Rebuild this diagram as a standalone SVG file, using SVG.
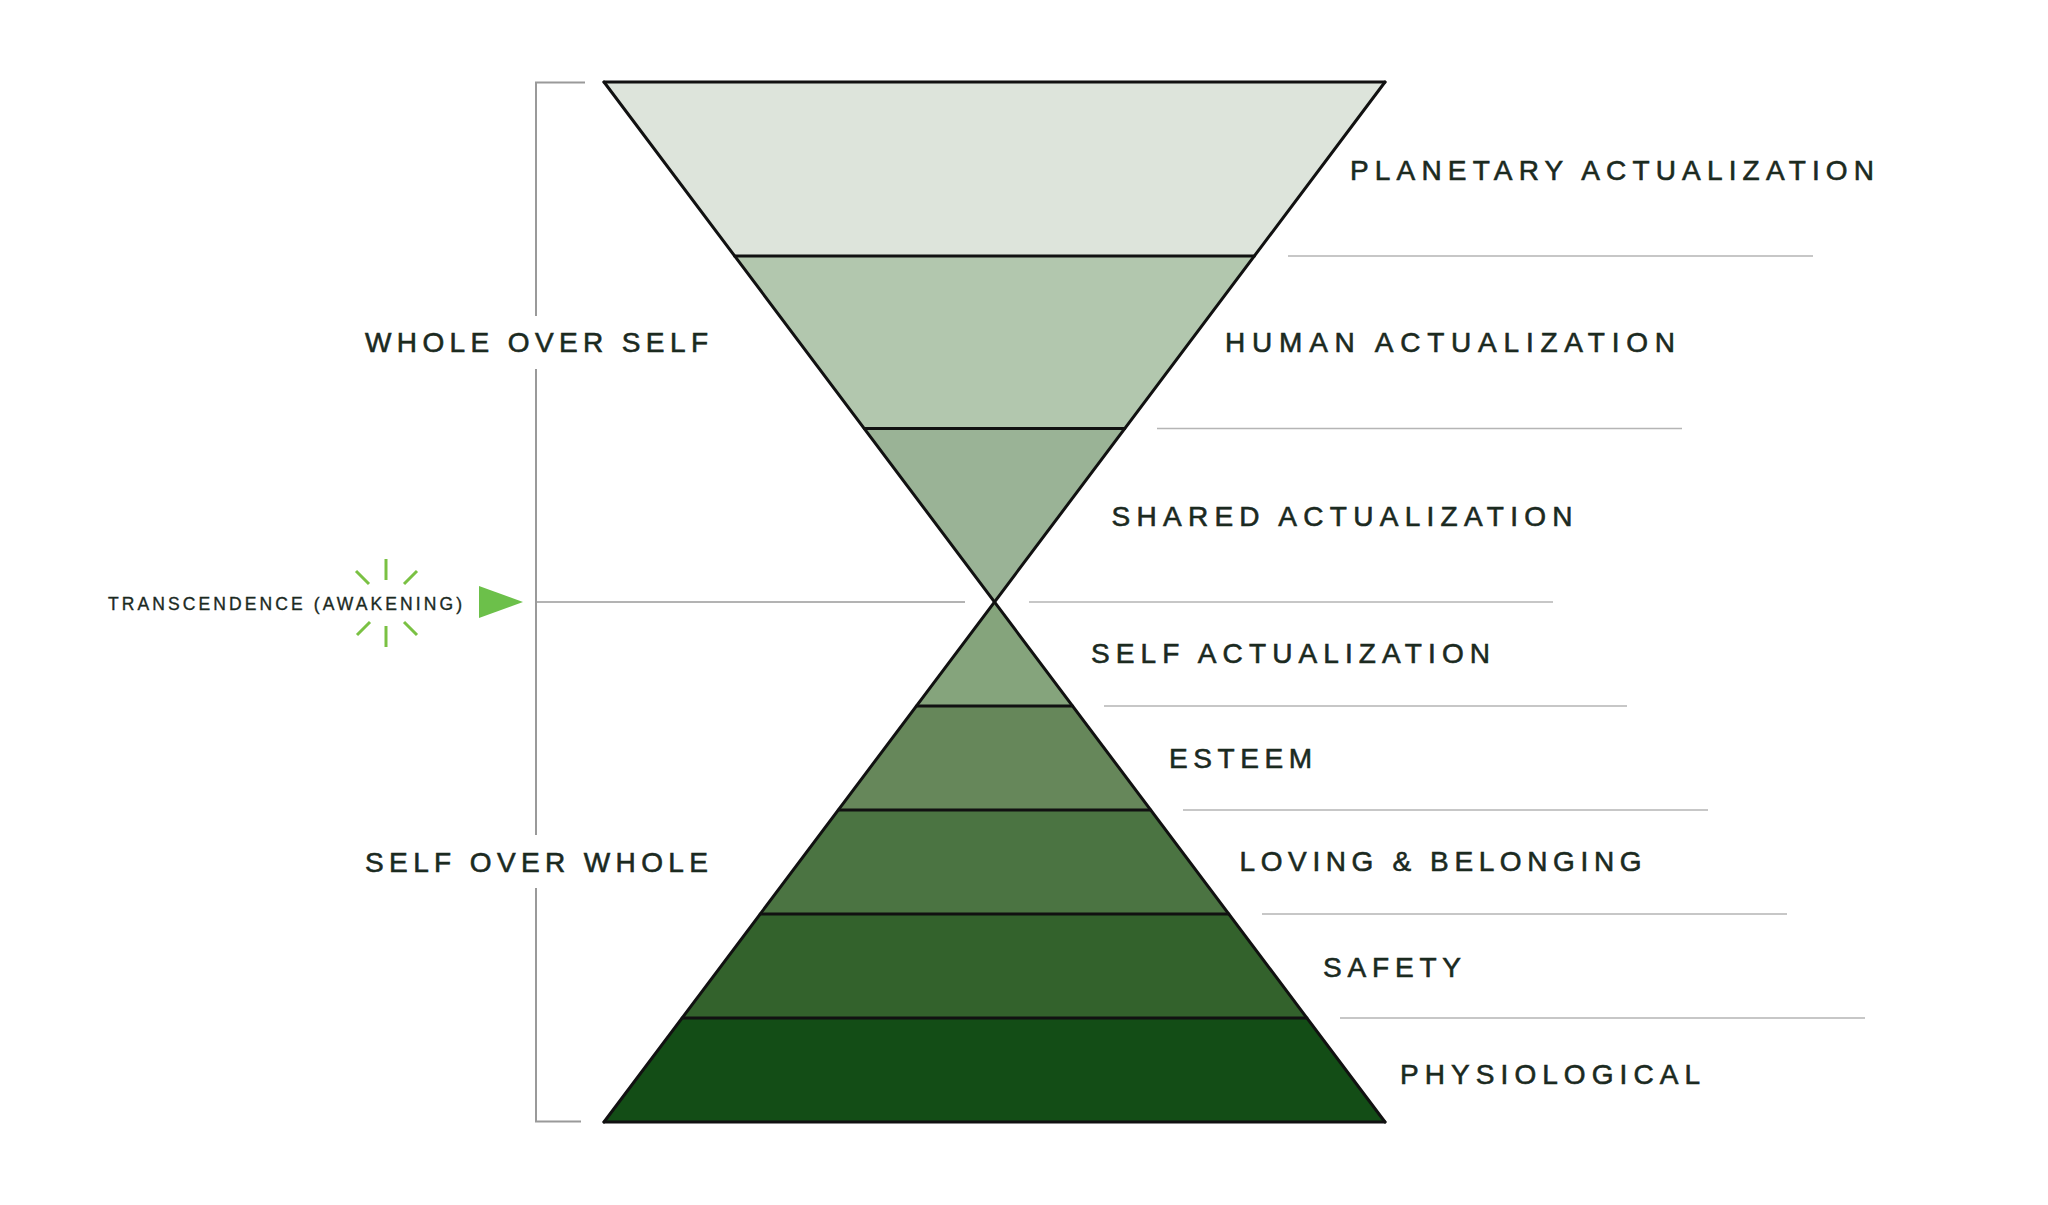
<svg xmlns="http://www.w3.org/2000/svg" width="2048" height="1205" viewBox="0 0 2048 1205">
<style>
.lbl{font-family:"Liberation Sans",Arial,sans-serif;font-size:28px;fill:#1b2a1f;stroke:#1b2a1f;stroke-width:0.6}
.small{font-family:"Liberation Sans",Arial,sans-serif;font-size:17.5px;fill:#1b2a1f;stroke:#1b2a1f;stroke-width:0.35}
.edge{stroke:#111;stroke-width:3;fill:none;stroke-linecap:round}
.rule{stroke:#b5b5b5;stroke-width:1.6}
.brk{stroke:#9a9a9a;stroke-width:2;fill:none}
.ray{stroke:#7ac143;stroke-width:3;stroke-linecap:butt}
</style>
<rect width="2048" height="1205" fill="#fff"/>
<g id="bracket">
<path class="brk" d="M585,82.5 H536 V316 M536,369 V835 M536,888 V1121.5 H581"/>
</g>
<g id="connectors">
<line class="brk" x1="536" y1="602" x2="965" y2="602" style="stroke-width:1.6"/>
<line class="rule" x1="1288" y1="256" x2="1813" y2="256"/>
<line class="rule" x1="1157" y1="428.5" x2="1682" y2="428.5"/>
<line class="rule" x1="1029" y1="602" x2="1553" y2="602"/>
<line class="rule" x1="1104" y1="706" x2="1627" y2="706"/>
<line class="rule" x1="1183" y1="810" x2="1708" y2="810"/>
<line class="rule" x1="1262" y1="914" x2="1787" y2="914"/>
<line class="rule" x1="1340" y1="1018" x2="1865" y2="1018"/>
</g>
<g id="planetary"><polygon points="604,82 1385,82 1254.3,256 734.7,256" fill="#dde4db"/><text class="lbl" x="1350" y="180" textLength="524" lengthAdjust="spacing">PLANETARY ACTUALIZATION</text></g>
<g id="human"><polygon points="734.7,256 1254.3,256 1124.6,428.5 864.4,428.5" fill="#b2c7ae"/><text class="lbl" x="1225" y="352" textLength="450" lengthAdjust="spacing">HUMAN ACTUALIZATION</text></g>
<g id="shared"><polygon points="864.4,428.5 1124.6,428.5 994.5,602" fill="#9ab396"/><text class="lbl" x="1111.5" y="526" textLength="461" lengthAdjust="spacing">SHARED ACTUALIZATION</text></g>
<g id="self-actualization"><polygon points="994.5,602 1072.6,706 916.4,706" fill="#85a47c"/><text class="lbl" x="1091" y="663" textLength="399" lengthAdjust="spacing">SELF ACTUALIZATION</text></g>
<g id="esteem"><polygon points="916.4,706 1072.6,706 1150.7,810 838.3,810" fill="#66875a"/><text class="lbl" x="1169" y="768" textLength="143" lengthAdjust="spacing">ESTEEM</text></g>
<g id="loving"><polygon points="838.3,810 1150.7,810 1228.8,914 760.2,914" fill="#4b7442"/><text class="lbl" x="1239.5" y="871" textLength="402" lengthAdjust="spacing">LOVING &amp; BELONGING</text></g>
<g id="safety"><polygon points="760.2,914 1228.8,914 1306.9,1018 682.1,1018" fill="#33622c"/><text class="lbl" x="1323" y="977" textLength="138" lengthAdjust="spacing">SAFETY</text></g>
<g id="physiological"><polygon points="682.1,1018 1306.9,1018 1385,1122 604,1122" fill="#134d16"/><text class="lbl" x="1400" y="1084" textLength="300" lengthAdjust="spacing">PHYSIOLOGICAL</text></g>
<g id="outline">
<line class="edge" x1="604" y1="82" x2="1385" y2="1122"/>
<line class="edge" x1="1385" y1="82" x2="604" y2="1122"/>
<line class="edge" x1="604" y1="82" x2="1385" y2="82"/>
<line class="edge" x1="734.7" y1="256" x2="1254.3" y2="256"/>
<line class="edge" x1="864.4" y1="428.5" x2="1124.6" y2="428.5"/>
<line class="edge" x1="916.4" y1="706" x2="1072.6" y2="706"/>
<line class="edge" x1="838.3" y1="810" x2="1150.7" y2="810"/>
<line class="edge" x1="760.2" y1="914" x2="1228.8" y2="914"/>
<line class="edge" x1="682.1" y1="1018" x2="1306.9" y2="1018"/>
<line class="edge" x1="604" y1="1122" x2="1385" y2="1122"/>
</g>
<g id="whole-over-self"><text class="lbl" x="365" y="352" textLength="343" lengthAdjust="spacing">WHOLE OVER SELF</text></g>
<g id="self-over-whole"><text class="lbl" x="365" y="872" textLength="343" lengthAdjust="spacing">SELF OVER WHOLE</text></g>
<g id="transcendence">
<text class="small" x="108" y="610" textLength="354" lengthAdjust="spacing">TRANSCENDENCE (AWAKENING)</text>
<line class="ray" x1="386" y1="559" x2="386" y2="580"/>
<line class="ray" x1="386" y1="626" x2="386" y2="647"/>
<line class="ray" x1="356" y1="571" x2="369" y2="584"/>
<line class="ray" x1="417" y1="571" x2="404" y2="584"/>
<line class="ray" x1="357" y1="635" x2="370" y2="622"/>
<line class="ray" x1="417" y1="635" x2="404" y2="622"/>
<polygon points="479,586 523,602 479,618" fill="#6cc04a"/>
</g>
</svg>
